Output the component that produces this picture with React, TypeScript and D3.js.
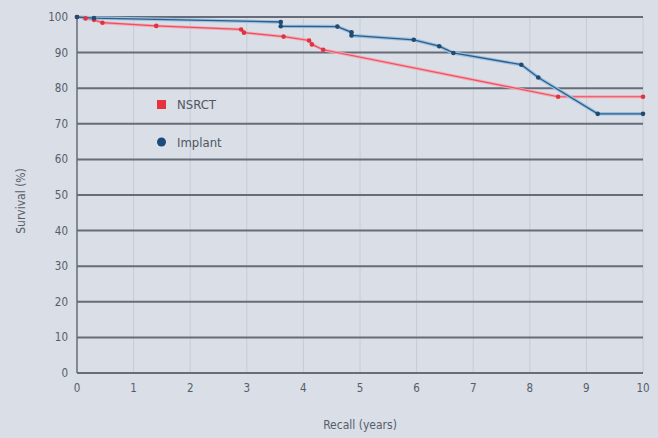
import { useEffect, useRef } from "react";
import * as d3 from "d3";

const yTicks = [0, 10, 20, 30, 40, 50, 60, 70, 80, 90, 100];
const xTicks = [0, 1, 2, 3, 4, 5, 6, 7, 8, 9, 10];

const nsrctYears = [0, 0.15, 0.3, 0.45, 1.4, 2.9, 2.95, 3.65, 4.1, 4.15, 4.35, 8.5, 10];
const nsrctSurvival = [100, 99.6, 99.2, 98.4, 97.5, 96.5, 95.6, 94.5, 93.4, 92.3, 90.8, 77.6, 77.6];

const implantYears = [0, 0.3, 3.6, 3.6, 4.6, 4.85, 4.85, 5.95, 6.4, 6.65, 7.85, 8.15, 9.2, 10];
const implantSurvival = [100, 99.7, 98.6, 97.4, 97.3, 95.7, 94.8, 93.6, 91.8, 89.9, 86.6, 83, 72.8, 72.8];

const W = 658;
const H = 438;
const FONT = "'DejaVu Sans Condensed', 'Liberation Sans Narrow', 'Liberation Sans', sans-serif";

const App: React.FC = () => {
  const svgRef = useRef<SVGSVGElement>(null);

  useEffect(() => {
    const svg = d3.select(svgRef.current);
    svg.selectAll("*").remove();

    const margin = { top: 17, right: 15, bottom: 65, left: 77 };
    const x = d3.scaleLinear().domain([0, 10]).range([margin.left, W - margin.right]);
    const y = d3.scaleLinear().domain([0, 100]).range([H - margin.bottom, margin.top]);

    svg.append("rect").attr("width", W).attr("height", H).attr("fill", "#d9dee7");

    // faint vertical grid
    svg.append("g").selectAll("line").data(xTicks.slice(1)).join("line")
      .attr("x1", (d) => x(d)).attr("x2", (d) => x(d))
      .attr("y1", y(100)).attr("y2", y(0))
      .attr("stroke", "#c6ccd6").attr("stroke-width", 1);

    // horizontal grid
    svg.append("g").selectAll("line").data(yTicks).join("line")
      .attr("x1", x(0)).attr("x2", x(10))
      .attr("y1", (d) => y(d)).attr("y2", (d) => y(d))
      .attr("stroke", "#666d79").attr("stroke-width", 2);

    svg.append("line").attr("x1", x(0)).attr("x2", x(0)).attr("y1", y(100)).attr("y2", y(0))
      .attr("stroke", "#666d79").attr("stroke-width", 1.5);

    // tick labels
    svg.append("g").selectAll("text").data(yTicks).join("text")
      .attr("x", x(0) - 9).attr("y", (d) => y(d) + 4)
      .attr("text-anchor", "end").attr("font-family", FONT).attr("font-size", 11.5).attr("fill", "#575d68")
      .text((d) => d);
    svg.append("g").selectAll("text").data(xTicks).join("text")
      .attr("x", (d) => x(d)).attr("y", y(0) + 19)
      .attr("text-anchor", "middle").attr("font-family", FONT).attr("font-size", 11.5).attr("fill", "#575d68")
      .text((d) => d);

    svg.append("text").attr("x", (x(0) + x(10)) / 2).attr("y", 429)
      .attr("text-anchor", "middle").attr("font-family", FONT).attr("font-size", 12).attr("fill", "#575d68")
      .text("Recall (years)");
    svg.append("text").attr("transform", `translate(25,${y(50) + 6}) rotate(-90)`)
      .attr("text-anchor", "middle").attr("font-family", FONT).attr("font-size", 12).attr("fill", "#575d68")
      .text("Survival (%)");

    const line = d3.line<[number, number]>().x((d) => x(d[0])).y((d) => y(d[1]));
    const nsrct = nsrctYears.map((v, i) => [v, nsrctSurvival[i]] as [number, number]);
    const implant = implantYears.map((v, i) => [v, implantSurvival[i]] as [number, number]);

    svg.append("path").datum(nsrct).attr("fill", "none").attr("stroke", "#f4aab3").attr("stroke-width", 3).attr("d", line);
    svg.append("path").datum(nsrct).attr("fill", "none").attr("stroke", "#ec5062").attr("stroke-width", 1.2).attr("d", line);
    svg.append("path").datum(implant).attr("fill", "none").attr("stroke", "#9cc2e2").attr("stroke-width", 3.5).attr("d", line);
    svg.append("path").datum(implant).attr("fill", "none").attr("stroke", "#2f5d88").attr("stroke-width", 1.3).attr("d", line);

    svg.append("g").selectAll("circle").data(nsrct).join("circle")
      .attr("cx", (d) => x(d[0])).attr("cy", (d) => y(d[1])).attr("r", 2.3).attr("fill", "#e0323f");
    svg.append("g").selectAll("circle").data(implant).join("circle")
      .attr("cx", (d) => x(d[0])).attr("cy", (d) => y(d[1])).attr("r", 2.3).attr("fill", "#1f4a72");

    // legend
    svg.append("rect").attr("x", 157).attr("y", 100).attr("width", 9).attr("height", 9).attr("fill", "#e8303e");
    svg.append("circle").attr("cx", 161.5).attr("cy", 142).attr("r", 4.5).attr("fill", "#1b4b7a");
    svg.append("text").attr("x", 177).attr("y", 109).attr("font-family", FONT).attr("font-size", 13).attr("fill", "#505660").text("NSRCT");
    svg.append("text").attr("x", 177).attr("y", 147).attr("font-family", FONT).attr("font-size", 13).attr("fill", "#505660").text("Implant");
  }, []);

  return <svg ref={svgRef} width={W} height={H} style={{ position: "absolute", left: 0, top: 0 }}></svg>;
};

export default App;
